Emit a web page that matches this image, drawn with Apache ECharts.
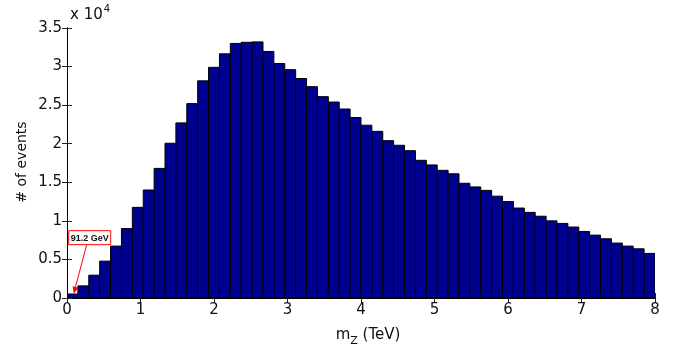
<!DOCTYPE html>
<html>
<head>
<meta charset="utf-8">
<script src="https://cdn.jsdelivr.net/npm/echarts@6/dist/echarts.min.js"></script>
<style>
html,body{margin:0;padding:0;background:#fff;}
#c{width:676px;height:353px;}
</style>
</head>
<body>
<div id="c"></div>
<script>
// ---- data ----
var xMin = 0, xMax = 8, binCount = 54;
var counts = [
  520, 1570, 2960, 4780, 6730, 9000, 11750, 14000, 16800, 20060,
  22700, 25200, 28150, 29900, 31650, 33000, 33150, 33200, 31960, 30400,
  29600, 28450, 27400, 26100, 25400, 24500, 23400, 22400, 21600, 20400,
  19800, 19100, 17850, 17250, 16550, 16100, 14870, 14400, 13950, 13200,
  12500, 11660, 11100, 10600, 10000, 9670, 9200, 8630, 8150, 7680,
  7120, 6730, 6380, 5780
];
var xTicks = [0, 1, 2, 3, 4, 5, 6, 7, 8];
var yTickStep = 5000, yMax = 35000;
var annotation = { label: '91.2 GeV', x: 0.0912, y: 560 };

var binWidth = (xMax - xMin) / binCount;
var barData = counts.map(function (c, i) {
  return [xMin + i * binWidth, xMin + (i + 1) * binWidth, c];
});

var FONT = 'DejaVu Sans';
var chart = echarts.init(document.getElementById('c'), null, { renderer: 'canvas' });

var axisCommon = {
  axisLine: { show: true, lineStyle: { color: '#000', width: 1 } },
  axisTick: { show: true, inside: true, length: 5, lineStyle: { color: '#222' } },
  splitLine: { show: false }
};

chart.setOption({
  animation: false,
  grid: { left: 67, right: 21, top: 28, bottom: 55, containLabel: false },
  xAxis: [
    Object.assign({
      type: 'value', min: xMin, max: xMax, interval: 1, position: 'bottom',
      axisLabel: { color: '#111', fontFamily: FONT, fontSize: 15, margin: 5,
        formatter: function (v) { return xTicks.indexOf(v) >= 0 ? String(v) : ''; } }
    }, axisCommon),
    Object.assign({
      type: 'value', min: xMin, max: xMax, interval: 1, position: 'top',
      axisLabel: { show: false }
    }, axisCommon)
  ],
  yAxis: [
    Object.assign({
      type: 'value', min: 0, max: yMax, interval: yTickStep, position: 'left',
      axisLabel: { color: '#111', fontFamily: FONT, fontSize: 15, margin: 5,
        formatter: function (v) { return String(v / 10000); } }
    }, axisCommon),
    Object.assign({
      type: 'value', min: 0, max: yMax, interval: yTickStep, position: 'right',
      axisLabel: { show: false }
    }, axisCommon)
  ],
  series: [{
    type: 'custom',
    xAxisIndex: 0, yAxisIndex: 0,
    data: barData,
    encode: { x: [0, 1], y: 2 },
    clip: true,
    renderItem: function (params, api) {
      var p0 = api.coord([api.value(0), api.value(2)]);
      var p1 = api.coord([api.value(1), 0]);
      return {
        type: 'rect',
        shape: { x: p0[0], y: p0[1], width: p1[0] - p0[0], height: p1[1] - p0[1] },
        style: { fill: '#00008F', stroke: '#000', lineWidth: 1 }
      };
    }
  }]
});

var tip = chart.convertToPixel({ xAxisIndex: 0, yAxisIndex: 0 }, [annotation.x, annotation.y]);
var boxX = tip[0] - 5, boxY = tip[1] - 63, boxW = 42, boxH = 14;
var sx = boxX + 18, sy = boxY + boxH;
var ang = Math.atan2(tip[1] - sy, tip[0] - sx);
var ah = 7, aw = 3;
var bx = tip[0] - ah * Math.cos(ang), by = tip[1] - ah * Math.sin(ang);
var px = -Math.sin(ang) * aw, py = Math.cos(ang) * aw;

chart.setOption({
  graphic: [
    { type: 'line', shape: { x1: sx, y1: sy, x2: bx, y2: by },
      style: { stroke: '#f00', lineWidth: 1 }, z: 100 },
    { type: 'polygon', shape: { points: [[tip[0], tip[1]], [bx + px, by + py], [bx - px, by - py]] },
      style: { fill: '#f00' }, z: 100 },
    { type: 'rect', shape: { x: boxX, y: boxY, width: boxW, height: boxH },
      style: { fill: '#fff', stroke: '#f00', lineWidth: 1 }, z: 100 },
    { type: 'text', x: boxX + boxW / 2, y: boxY + boxH / 2 + 0.5, z: 101,
      style: { text: annotation.label, fill: '#111', font: 'bold 9px "Liberation Sans"',
        textAlign: 'center', textVerticalAlign: 'middle' } },
    { type: 'text', x: 368, y: 334, z: 100,
      style: {
        text: '{a|m}{s|Z}{a| (TeV)}', textAlign: 'center', textVerticalAlign: 'middle',
        rich: {
          a: { fontFamily: FONT, fontSize: 15, fill: '#111', verticalAlign: 'bottom', lineHeight: 18 },
          s: { fontFamily: FONT, fontSize: 11, fill: '#111', verticalAlign: 'bottom', padding: [0, 0, -4, 0], lineHeight: 18 }
        }
      } },
    { type: 'text', x: 22, y: 162, rotation: Math.PI / 2, z: 100,
      style: { text: '# of events', fontFamily: FONT, fontSize: 14, fill: '#111',
        textAlign: 'center', textVerticalAlign: 'middle' } },
    { type: 'text', x: 70, y: 15, z: 100,
      style: {
        text: '{a|x 10}{s|4}', textVerticalAlign: 'middle',
        rich: {
          a: { fontFamily: FONT, fontSize: 15, fill: '#111' },
          s: { fontFamily: FONT, fontSize: 10, fill: '#111', padding: [0, 0, 12, 1] }
        }
      } }
  ]
});
</script>
</body>
</html>
